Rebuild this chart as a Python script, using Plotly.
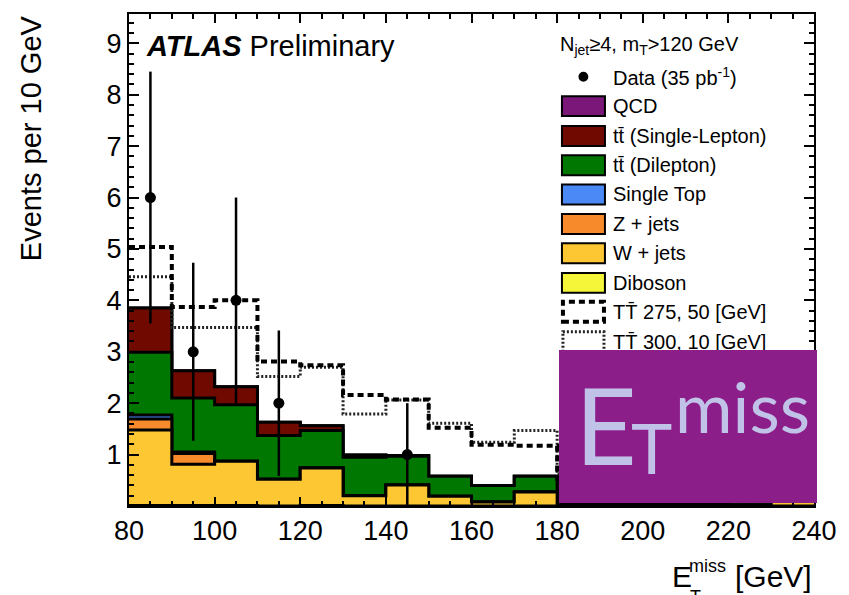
import plotly.graph_objects as go

# ---------------- data ----------------
bin_edges = [80, 90, 100, 110, 120, 130, 140, 150, 160, 170, 180, 190, 200, 210, 220, 230, 240]
bin_centers = [85, 95, 105, 115, 125, 135, 145, 155, 165, 175, 185, 195, 205, 215, 225, 235]

diboson = [0.01, 0.01, 0.01, 0.0, 0.01, 0.0, 0.0, 0.0, 0.0, 0.0, 0.0, 0.0, 0.0, 0.0, 0.0, 0.0]
wjets = [1.47, 0.80, 0.86, 0.52, 0.73, 0.20, 0.41, 0.19, 0.08, 0.27, 0.05, 0.03, 0.05, 0.05, 0.02, 0.12]
zjets = [0.21, 0.21, 0.0, 0.0, 0.0, 0.0, 0.0, 0.0, 0.0, 0.0, 0.0, 0.0, 0.0, 0.0, 0.0, 0.0]
single_top = [0.08, 0.03, 0.0, 0.0, 0.0, 0.0, 0.0, 0.0, 0.0, 0.0, 0.0, 0.0, 0.0, 0.0, 0.0, 0.0]
tt_dilepton = [1.22, 1.05, 1.10, 0.85, 0.73, 0.75, 0.56, 0.39, 0.32, 0.31, 0.20, 0.32, 0.12, 0.10, 0.25, 0.03]
tt_single_lepton = [0.86, 0.53, 0.35, 0.26, 0.09, 0.04, 0.01, 0.0, 0.0, 0.0, 0.05, 0.0, 0.02, 0.0, 0.0, 0.0]
qcd = [0.0] * 16

data_counts = [6, 3, 4, 2, 0, 0, 1, 0, 0, 0, 0, 0, 0, 0, 0, 0]

signal_275_50 = [5.04, 3.87, 4.00, 2.81, 2.74, 2.16, 2.07, 1.52, 1.19, 1.17, 0.52, 0.45, 0.30, 0.25, 0.20, 0.20]
signal_300_10 = [4.46, 3.47, 3.47, 2.52, 2.70, 1.79, 2.06, 1.61, 1.24, 1.47, 0.62, 0.50, 0.45, 0.30, 0.28, 0.15]

y_ticks = [1, 2, 3, 4, 5, 6, 7, 8, 9]
x_ticks = [80, 100, 120, 140, 160, 180, 200, 220, 240]

components = [
    ("Diboson", diboson, "#f5f53a"),
    ("W + jets", wjets, "#fcc733"),
    ("Z + jets", zjets, "#f78a2a"),
    ("Single Top", single_top, "#4b89f7"),
    ("tt\u0304 (Dilepton)", tt_dilepton, "#007700"),
    ("tt\u0304 (Single-Lepton)", tt_single_lepton, "#700a00"),
    ("QCD", qcd, "#7a1778"),
]

# ---------------- layout geometry ----------------
W, H = 849, 595
L, R, T, B = 129, 27, 12, 89
PW, PH = W - L - R, H - T - B


def PX(x):
    return (x - L) / PW


def PY(y):
    return (T + PH - y) / PH


FONT = "Liberation Sans, Arial, Helvetica, sans-serif"

fig = go.Figure()

# cumulative stack, drawn from total downwards (ROOT style)
cum = []
running = [0.0] * 16
for name, vals, col in components:
    running = [a + b for a, b in zip(running, vals)]
    cum.append((name, list(running), col))

for name, vals, col in reversed(cum):
    fig.add_trace(go.Scatter(
        x=bin_edges, y=vals + [vals[-1]], mode="lines", line_shape="hv",
        line=dict(color="black", width=3), fill="tozeroy", fillcolor=col,
        showlegend=False, hoverinfo="skip"))

# signals
fig.add_trace(go.Scatter(
    x=bin_edges, y=signal_300_10 + [signal_300_10[-1]], mode="lines", line_shape="hv",
    line=dict(color="#222222", width=3, dash="2px,2px"), showlegend=False, hoverinfo="skip"))
fig.add_trace(go.Scatter(
    x=bin_edges, y=signal_275_50 + [signal_275_50[-1]], mode="lines", line_shape="hv",
    line=dict(color="black", width=4, dash="6px,4px"), showlegend=False, hoverinfo="skip"))

# data
dx = [c for c, n in zip(bin_centers, data_counts) if n > 0]
dy = [n for n in data_counts if n > 0]
derr = [n ** 0.5 for n in dy]
fig.add_trace(go.Scatter(
    x=dx, y=dy, mode="markers", marker=dict(color="black", size=11),
    error_y=dict(type="data", array=derr, visible=True, color="black", thickness=2.5, width=0),
    showlegend=False, hoverinfo="skip"))

shapes = []
annotations = []

# ATLAS label
annotations.append(dict(
    xref="paper", yref="paper", x=PX(145), y=PY(27), xanchor="left", yanchor="top",
    text="<b><i>ATLAS</i></b> Preliminary", showarrow=False, borderpad=0,
    font=dict(family=FONT, size=29, color="black")))

# legend
LX = 2  # small horizontal nudge
annotations.append(dict(
    xref="paper", yref="paper", x=PX(562 + LX), y=PY(44), xanchor="left", yanchor="middle",
    text="N<sub>jet</sub>\u22654, m<sub>T</sub>&gt;120 GeV", showarrow=False, borderpad=0,
    font=dict(family=FONT, size=20, color="black")))

shapes.append(dict(type="circle", xref="paper", yref="paper",
                   x0=PX(581.7 + LX), x1=PX(591.7 + LX), y0=PY(80), y1=PY(70),
                   fillcolor="black", line=dict(color="black", width=0)))
annotations.append(dict(
    xref="paper", yref="paper", x=PX(616 + LX), y=PY(75), xanchor="left", yanchor="middle",
    text="Data (35 pb<sup>-1</sup>)", showarrow=False, borderpad=0,
    font=dict(family=FONT, size=20, color="black")))

legend_rows = [
    ("QCD", "#7a1778", 104.5),
    ("tt\u0304 (Single-Lepton)", "#700a00", 134.5),
    ("tt\u0304 (Dilepton)", "#007700", 163.8),
    ("Single Top", "#4b89f7", 193.2),
    ("Z + jets", "#f78a2a", 222.8),
    ("W + jets", "#fcc733", 252.3),
    ("Diboson", "#f5f53a", 282.0),
]
for label, col, yc in legend_rows:
    shapes.append(dict(type="rect", xref="paper", yref="paper",
                       x0=PX(565 + LX), x1=PX(608.5 + LX), y0=PY(yc + 10), y1=PY(yc - 10),
                       fillcolor=col, line=dict(color="black", width=2)))
    annotations.append(dict(
        xref="paper", yref="paper", x=PX(616 + LX), y=PY(yc), xanchor="left", yanchor="middle",
        text=label, showarrow=False, borderpad=0,
        font=dict(family=FONT, size=20, color="black")))

shapes.append(dict(type="rect", xref="paper", yref="paper",
                   x0=PX(566 + LX), x1=PX(607.5 + LX), y0=PY(321), y1=PY(301),
                   fillcolor="white", line=dict(color="black", width=4, dash="6px,4px")))
annotations.append(dict(
    xref="paper", yref="paper", x=PX(616 + LX), y=PY(311.5), xanchor="left", yanchor="middle",
    text="TT\u0304 275, 50 [GeV]", showarrow=False, borderpad=0,
    font=dict(family=FONT, size=20, color="black")))
shapes.append(dict(type="rect", xref="paper", yref="paper",
                   x0=PX(566 + LX), x1=PX(607.5 + LX), y0=PY(351), y1=PY(331),
                   fillcolor="white", line=dict(color="#222222", width=3, dash="2px,2px")))
annotations.append(dict(
    xref="paper", yref="paper", x=PX(616 + LX), y=PY(341.5), xanchor="left", yanchor="middle",
    text="TT\u0304 300, 10 [GeV]", showarrow=False, borderpad=0,
    font=dict(family=FONT, size=20, color="black")))

# axis titles
annotations.append(dict(
    xref="paper", yref="paper", x=PX(30), y=PY(12), xanchor="center", yanchor="top",
    text="Events per 10 GeV", textangle=-90, showarrow=False, borderpad=0,
    font=dict(family=FONT, size=29, color="black")))
annotations.append(dict(
    xref="paper", yref="paper", x=PX(677), y=PY(594.5), xanchor="left", yanchor="bottom",
    text="E", showarrow=False, borderpad=0, font=dict(family=FONT, size=30, color="black")))
annotations.append(dict(
    xref="paper", yref="paper", x=PX(695), y=PY(577), xanchor="left", yanchor="bottom",
    text="miss", showarrow=False, borderpad=0, font=dict(family=FONT, size=18, color="black")))
annotations.append(dict(
    xref="paper", yref="paper", x=PX(695.5), y=PY(586.6), xanchor="left", yanchor="top",
    text="T", showarrow=False, borderpad=0, font=dict(family=FONT, size=18, color="black")))
annotations.append(dict(
    xref="paper", yref="paper", x=PX(741), y=PY(594.5), xanchor="left", yanchor="bottom",
    text="[GeV]", showarrow=False, borderpad=0, font=dict(family=FONT, size=30, color="black")))

# E_T^miss overlay badge
annotations.append(dict(
    xref="paper", yref="paper", x=PX(564), y=PY(349.3), xanchor="left", yanchor="top",
    text=" ", showarrow=False, borderpad=0, borderwidth=0, bgcolor="#8b1e88",
    width=258, height=153, font=dict(size=10)))
BADGE_FONT = "Lato, Open Sans, sans-serif"
BC = "#c0c2e8"
annotations.append(dict(
    xref="paper", yref="paper", x=PX(579), y=PY(489), xanchor="left", yanchor="bottom",
    text="E", showarrow=False, borderpad=0, font=dict(family=BADGE_FONT, size=107, color=BC)))
annotations.append(dict(
    xref="paper", yref="paper", x=PX(636), y=PY(489.5), xanchor="left", yanchor="bottom",
    text="T", showarrow=False, borderpad=0, font=dict(family=BADGE_FONT, size=70, color=BC)))
annotations.append(dict(
    xref="paper", yref="paper", x=PX(680), y=PY(449), xanchor="left", yanchor="bottom",
    text="miss", showarrow=False, borderpad=0, font=dict(family=BADGE_FONT, size=70, color=BC)))

fig.update_layout(
    width=W, height=H, margin=dict(l=L, r=R, t=T, b=B, pad=0),
    paper_bgcolor="white", plot_bgcolor="white",
    shapes=shapes, annotations=annotations, showlegend=False,
    xaxis=dict(range=[80, 240], tickvals=x_ticks, ticktext=[str(v) for v in x_ticks],
               ticks="inside", ticklen=9, tickwidth=1.5, tickcolor="black",
               showline=True, linewidth=2, linecolor="black", mirror="ticks",
               showgrid=False, zeroline=False,
               tickfont=dict(family=FONT, size=27, color="black"),
               minor=dict(dtick=5, tick0=80, ticks="inside", ticklen=5, tickcolor="black", tickwidth=1.5, showgrid=False)),
    yaxis=dict(range=[0, 9.57], tickvals=y_ticks, ticktext=[str(v) for v in y_ticks],
               ticks="inside", ticklen=10, tickwidth=1.5, tickcolor="black",
               showline=True, linewidth=2, linecolor="black", mirror="ticks",
               showgrid=False, zeroline=False,
               tickfont=dict(family=FONT, size=27, color="black"),
               minor=dict(dtick=0.2, tick0=0, ticks="inside", ticklen=5, tickcolor="black", tickwidth=1.5, showgrid=False)),
)

fig.write_html("out.html")
